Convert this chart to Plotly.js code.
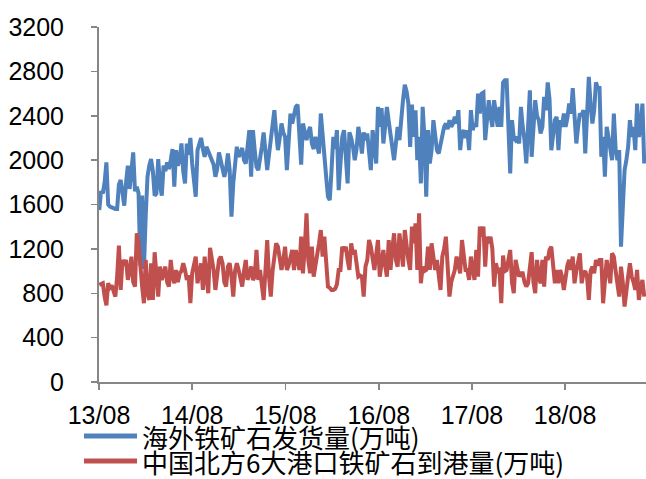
<!DOCTYPE html>
<html>
<head>
<meta charset="utf-8">
<script src="https://cdn.plot.ly/plotly-3.0.1.min.js"></script>
<style>
html,body{margin:0;padding:0;background:#fff;}
#chart{width:646px;height:479px;}
</style>
</head>
<body>
<div id="chart"></div>
<script>
// Weekly series starting first week of Aug 2013
const startDate = "2013-08-02";
const seriesNames = ["海外铁矿石发货量(万吨)", "中国北方6大港口铁矿石到港量(万吨)"];
const seriesColors = ["#4F81BD", "#C0504D"];
const tickLabels = ["13/08", "14/08", "15/08", "16/08", "17/08", "18/08"];
const tickDates = ["2013-08-01", "2014-08-01", "2015-08-01", "2016-08-01", "2017-08-01", "2018-08-01"];

const overseasShipments = [
  1550,1720,1700,1800,1980,1600,1580,1570,1570,1560,1560,1780,1820,1700,1590,1800,1950,1740,1900,2070,
  1720,1760,1700,1050,1680,1020,1500,1850,1950,2010,1900,1680,1700,2010,1780,1680,1950,1900,1980,1920,
  2000,2100,1760,2090,1950,2000,2150,1900,1790,2150,2050,2200,1970,1800,1670,2090,2150,2200,2100,2030,
  2120,2080,2030,2000,1960,1850,1920,2070,1980,1910,1850,1920,2060,1910,1490,1790,1950,2120,2030,2060,
  2110,2000,1970,2100,2270,1850,2270,2090,1940,1910,2000,2120,2250,2100,1910,2050,2210,2300,2450,2250,
  2090,2200,2330,2250,2210,1910,2150,2420,2330,2400,2480,2500,2250,1960,2330,2250,2180,2250,2300,2150,
  2100,2210,2150,2060,2420,2200,2060,1850,1670,1640,1910,2210,2100,2270,1730,2000,2210,2270,2000,1790,
  2250,2200,2120,2000,2100,2300,2200,2060,2250,2180,2240,2100,1910,2270,2100,1970,2480,2300,2470,2150,
  2300,2480,2350,2210,2100,2000,2150,2300,2180,2400,2540,2680,2620,2510,2120,2500,2210,2450,2000,2210,
  1790,2480,2200,1670,2270,1970,2090,2360,2250,2090,2060,2150,2240,2300,2330,2280,2360,2300,2330,2390,
  2330,2450,2090,2240,2270,2200,2270,2090,2450,2270,2330,2300,2600,2420,2600,2610,2180,2400,2540,2400,
  2300,2540,2400,2300,2480,2300,2700,2720,2720,2210,1880,2360,2200,2180,2210,2150,2480,2300,2180,1970,
  2300,2630,2030,2270,2540,2400,2360,2240,2300,2570,2450,2700,2550,2090,2200,2360,2390,2090,2360,2300,
  2420,2300,2380,2510,2420,2650,2400,2150,2300,2420,2400,2450,2060,2400,2750,2500,2330,2450,2700,2650,
  2650,2030,2210,1850,2300,2210,2100,2000,2420,2100,2000,2090,1220,1600,1910,2000,2120,2360,2210,2300,
  2090,2510,2210,2300,2510,1970
];

const northPortArrivals = [
  875,880,890,770,690,890,850,870,830,770,950,1230,830,1100,1050,1100,920,1000,1130,900,
  860,1340,1250,1000,860,710,1100,800,740,1070,740,1170,900,770,1040,920,980,1040,900,860,
  1100,950,890,1010,900,980,1000,1070,1010,920,960,710,980,1050,1130,890,960,1070,830,1130,
  950,800,1210,1100,1010,830,1000,1100,1130,1070,900,860,1040,1070,950,770,1000,1070,1010,950,
  860,1000,1100,920,980,1040,920,950,1190,920,1010,900,740,1000,1280,950,770,1000,1150,1250,
  1220,1100,1010,1100,1220,1010,1050,1120,1190,1010,1190,1100,1010,1310,980,1200,1520,1100,980,1220,
  950,1050,1130,1250,1370,1130,1310,1000,860,850,830,830,840,880,1010,1010,1220,1180,1220,1100,
  1010,1250,1150,1190,1080,950,960,950,770,1040,1100,1280,1220,1100,1010,1150,1280,950,1100,1190,
  1050,950,1280,1010,1200,1340,1100,1040,1340,1150,1040,1370,1190,1100,1010,1400,1250,1430,1010,1520,
  890,1040,1000,1010,1220,1010,1250,1100,1010,1100,980,830,1130,1200,1310,1010,770,900,950,1010,
  1130,1050,980,1280,1100,1010,1010,920,1130,1000,920,1190,950,1400,1310,1400,1040,1310,1250,1310,
  1200,860,1070,1000,1010,710,1140,1000,1010,1100,1190,900,800,1100,1040,950,980,980,900,860,
  890,1010,1170,900,800,1100,950,890,1100,860,1130,1100,1190,1220,1000,890,1010,890,1010,950,
  830,980,1050,1100,1010,1130,890,1000,1100,1160,890,980,1000,950,740,1000,1040,980,1100,1050,
  1100,1100,710,950,1100,1000,890,1160,1130,1000,890,770,1040,900,680,850,950,1070,950,900,
  830,1010,740,850,920,770
];

function weeklyDates(start, n) {
  const out = [];
  const d0 = new Date(start + "T00:00:00Z");
  for (let i = 0; i < n; i++) {
    const d = new Date(d0.getTime() + i * 7 * 86400000);
    out.push(d.toISOString().slice(0, 10));
  }
  return out;
}

const dates = weeklyDates(startDate, overseasShipments.length);
const values = [overseasShipments, northPortArrivals];

const traces = values.map((v, k) => ({
  x: dates, y: v, name: seriesNames[k], type: "scatter", mode: "lines",
  line: {color: seriesColors[k], width: 4}, showlegend: false
}));

// Legend drawn below the plot (paper coordinates: plot spans 99..646 px, 27..382 px)
const plotL = 99, plotW = 547, plotT = 27, plotH = 355;
const px = (p) => (p - plotL) / plotW;
const py = (p) => (plotT + plotH - p) / plotH;
const legendRows = [436, 461];
const shapes = legendRows.map((r, k) => ({
  type: "line", xref: "paper", yref: "paper",
  x0: px(84), x1: px(137), y0: py(r), y1: py(r),
  line: {color: seriesColors[k], width: 5}
}));
const annotations = legendRows.map((r, k) => ({
  xref: "paper", yref: "paper", x: px(140), y: py(r),
  xanchor: "left", yanchor: "middle", showarrow: false,
  text: seriesNames[k],
  font: {family: "Noto Sans CJK SC, sans-serif", size: 26, color: "#000"}
}));

const axisCommon = {
  showgrid: false, zeroline: false,
  showline: true, linecolor: "#868686", linewidth: 2,
  ticks: "outside", ticklen: 6, tickcolor: "#868686", tickwidth: 1.5,
  tickfont: {size: 25, family: "Liberation Sans, Arial, sans-serif", color: "#000"}
};

const layout = {
  width: 646, height: 479,
  margin: {l: plotL, r: 0, t: plotT, b: 479 - plotT - plotH, autoexpand: false},
  paper_bgcolor: "#fff", plot_bgcolor: "#fff",
  font: {family: "Liberation Sans, Arial, sans-serif", size: 25, color: "#000"},
  showlegend: false,
  shapes: shapes,
  annotations: annotations,
  xaxis: Object.assign({}, axisCommon, {
    type: "date",
    range: ["2013-08-01", "2019-06-14"],
    tickvals: tickDates, ticktext: tickLabels, tickangle: 0,
    ticklabelstandoff: 4
  }),
  yaxis: Object.assign({}, axisCommon, {
    range: [0, 3200], tickvals: [0,400,800,1200,1600,2000,2400,2800,3200],
    ticklabelstandoff: 22
  })
};

Plotly.newPlot("chart", traces, layout, {displayModeBar: false, staticPlot: true});
</script>
</body>
</html>
